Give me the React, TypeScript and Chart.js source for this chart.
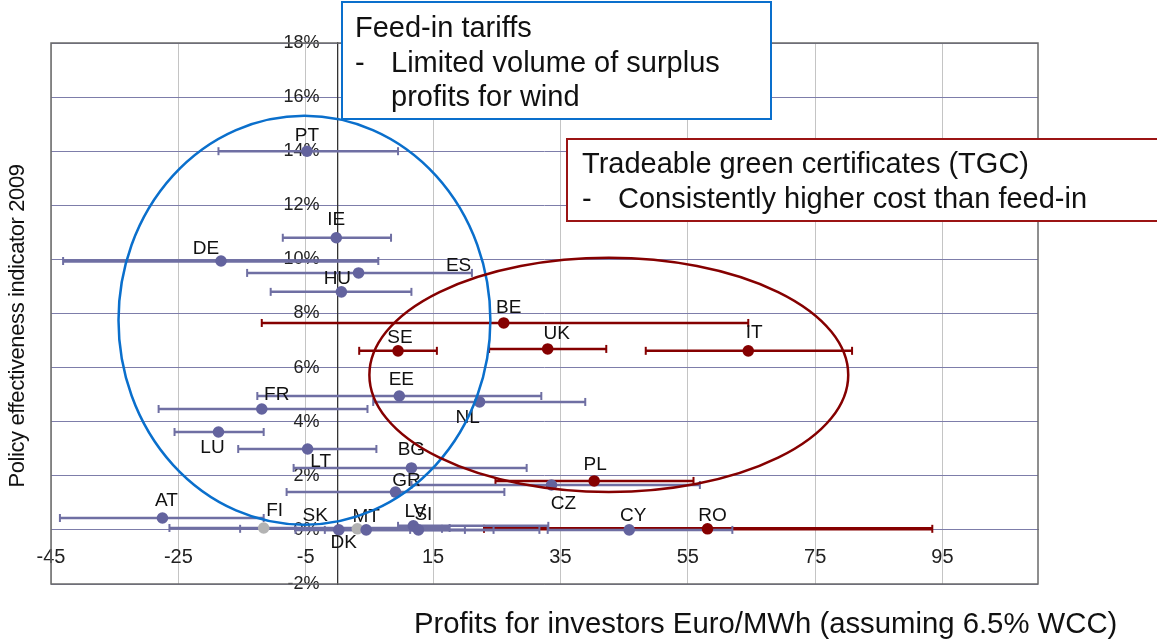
import React, { useEffect, useRef } from 'react';
import { Chart, registerables } from 'chart.js';

Chart.register(...registerables);

// ---------- data ----------
const COUNTRIES = ['PT', 'IE', 'DE', 'ES', 'HU', 'BE', 'SE', 'UK', 'IT', 'EE', 'NL', 'FR', 'LU', 'LT', 'BG', 'GR', 'CZ', 'PL', 'AT', 'FI', 'SK', 'DK', 'MT', 'LV', 'SI', 'CY', 'RO'];
const PROFIT = [-4.8, -0.2, -18.3, 3.3, 0.6, 26.1, 9.5, 33.0, 64.5, 9.7, 22.3, -11.9, -18.7, -4.7, 11.6, 9.1, 33.6, 40.3, -27.5, -11.6, 3.1, 0.2, 4.5, 11.9, 12.7, 45.8, 58.1];
const PROFIT_LOW = [-18.7, -8.6, -43.1, -14.2, -10.5, -11.9, 3.4, 23.8, 48.4, -12.6, 5.6, -28.1, -25.6, -15.6, -6.9, -8.0, 11.6, 24.8, -43.6, -26.4, -15.3, -6.6, -2.0, 9.5, 11.4, 33.0, 23.0];
const PROFIT_HIGH = [9.5, 8.4, 6.4, 21.1, 11.6, 64.5, 15.6, 42.2, 80.8, 32.0, 38.9, 4.7, -11.6, 6.1, 29.7, 26.2, 56.9, 55.9, -11.6, 17.6, 16.4, 24.5, 31.7, 33.1, 20.0, 62.0, 93.4];
const EFFECTIVENESS = [14.0, 10.8, 9.94, 9.5, 8.8, 7.65, 6.62, 6.69, 6.62, 4.95, 4.73, 4.47, 3.62, 2.99, 2.29, 1.4, 1.66, 1.81, 0.44, 0.07, 0.04, 0.0, 0.0, 0.15, 0.0, 0.0, 0.04];
const SCHEME = ['FIT', 'FIT', 'FIT', 'FIT', 'FIT', 'TGC', 'TGC', 'TGC', 'TGC', 'FIT', 'FIT', 'FIT', 'FIT', 'FIT', 'FIT', 'FIT', 'FIT', 'TGC', 'FIT', 'OTHER', 'OTHER', 'FIT', 'FIT', 'FIT', 'FIT', 'FIT', 'TGC'];
const X_TICKS = [-45, -25, -5, 15, 35, 55, 75, 95];
const Y_TICK_STEP = 2;

const X_TITLE = 'Profits for investors Euro/MWh (assuming 6.5% WCC)';
const Y_TITLE = 'Policy effectiveness indicator 2009';
const FIT_BOX_LINES = ['Feed-in tariffs', '-', 'Limited volume of surplus', 'profits for wind'];
const TGC_BOX_LINES = ['Tradeable green certificates (TGC)', '-', 'Consistently higher cost than feed-in'];

// ---------- styling / layout ----------
const FONT = '"Liberation Sans", Arial, sans-serif';
const BAR_COLOR: Record<string, string> = { FIT: '#6f6fa3', TGC: '#850000', OTHER: '#6f6fa3' };
const DOT_COLOR: Record<string, string> = { FIT: '#63639e', TGC: '#850000', OTHER: '#b3b3b3' };
const THICK = ['DE', 'RO'];
const LABEL_OFFSETS: Record<string, [number, number]> = {
  PT: [0, -15], IE: [0, -18], DE: [-15, -12], ES: [100, -7], HU: [-4, -13], BE: [5, -15], SE: [2, -13],
  UK: [9, -15], IT: [6, -18], EE: [2, -16], NL: [-12, 16], FR: [15, -14], LU: [-6, 16], LT: [13, 13],
  BG: [0, -18], GR: [11, -11], CZ: [12, 19], PL: [1, -16], AT: [4, -17], FI: [11, -17], SK: [-42, -13],
  DK: [5, 13], MT: [0, -13], LV: [2, -14], SI: [5, -15], CY: [4, -14], RO: [5, -13],
};
// ellipses given in data units (centre x, centre y, radius x, radius y)
const ELLIPSES = [
  { cx: -5.2, cy: 7.75, rx: 29.2, ry: 7.56, color: '#0a6fcc' },
  { cx: 42.6, cy: 5.73, rx: 37.6, ry: 4.33, color: '#850000' },
];

const annotations = {
  id: 'annotations',
  afterDatasetsDraw(chart: any) {
    const { ctx, scales } = chart;
    const xs = scales.x;
    const ys = scales.y;
    const meta = chart.getDatasetMeta(0);
    ctx.save();
    ctx.font = `19px ${FONT}`;
    ctx.fillStyle = '#111';
    ctx.textAlign = 'center';
    ctx.textBaseline = 'middle';
    COUNTRIES.forEach((c, i) => {
      const el = meta.data[i];
      const [dx, dy] = LABEL_OFFSETS[c];
      ctx.fillText(c, el.x + dx, el.y + dy);
    });
    ELLIPSES.forEach((e) => {
      const cx = xs.getPixelForValue(e.cx);
      const cy = ys.getPixelForValue(e.cy);
      const rx = Math.abs(xs.getPixelForValue(e.cx + e.rx) - cx);
      const ry = Math.abs(ys.getPixelForValue(e.cy + e.ry) - cy);
      ctx.beginPath();
      ctx.ellipse(cx, cy, rx, ry, 0, 0, Math.PI * 2);
      ctx.strokeStyle = e.color;
      ctx.lineWidth = 2.5;
      ctx.stroke();
    });
    ctx.restore();
  },
  afterDraw(chart: any) {
    const { ctx, chartArea } = chart;
    ctx.save();
    ctx.strokeStyle = '#6a6a6a';
    ctx.lineWidth = 1.5;
    ctx.strokeRect(chartArea.left, chartArea.top, chartArea.right - chartArea.left, chartArea.bottom - chartArea.top);

    ctx.fillStyle = '#fff';
    ctx.fillRect(342, 2, 429, 117);
    ctx.strokeStyle = '#0a6fcc';
    ctx.lineWidth = 2;
    ctx.strokeRect(342, 2, 429, 117);
    ctx.fillStyle = '#111';
    ctx.font = `29px ${FONT}`;
    ctx.textAlign = 'left';
    ctx.textBaseline = 'alphabetic';
    ctx.fillText(FIT_BOX_LINES[0], 355, 37);
    ctx.fillText(FIT_BOX_LINES[1], 355, 72);
    ctx.fillText(FIT_BOX_LINES[2], 391, 72);
    ctx.fillText(FIT_BOX_LINES[3], 391, 106);

    ctx.fillStyle = '#fff';
    ctx.fillRect(567, 139, 600, 82);
    ctx.strokeStyle = '#9b1414';
    ctx.lineWidth = 2;
    ctx.strokeRect(567, 139, 600, 82);
    ctx.fillStyle = '#111';
    ctx.fillText(TGC_BOX_LINES[0], 582, 173);
    ctx.fillText(TGC_BOX_LINES[1], 582, 208);
    ctx.fillText(TGC_BOX_LINES[2], 618, 208);

    ctx.font = `29.3px ${FONT}`;
    ctx.fillText(X_TITLE, 414, 633);
    ctx.translate(24, 326);
    ctx.rotate(-Math.PI / 2);
    ctx.font = `22px ${FONT}`;
    try { (ctx as any).letterSpacing = '-0.4px'; } catch (e) { /* ignore */ }
    ctx.textAlign = 'center';
    ctx.fillText(Y_TITLE, 0, 0);
    ctx.restore();
  },
};

export default function App() {
  const ref = useRef<HTMLCanvasElement>(null);
  useEffect(() => {
    document.body.style.margin = '0';
    const canvas = ref.current!;
    const barDatasets = COUNTRIES.map((c, i) => ({
      type: 'scatter' as const,
      label: c + ' range',
      data: [
        { x: PROFIT_LOW[i], y: EFFECTIVENESS[i] },
        { x: PROFIT_HIGH[i], y: EFFECTIVENESS[i] },
      ],
      showLine: true,
      borderColor: BAR_COLOR[SCHEME[i]],
      borderWidth: THICK.includes(c) ? 3.5 : 2.5,
      pointStyle: 'line' as const,
      pointRotation: 90,
      pointRadius: 4,
      pointBorderWidth: 2,
      pointBorderColor: BAR_COLOR[SCHEME[i]],
      order: 2,
    }));
    const dots = {
      type: 'scatter' as const,
      label: 'countries',
      data: COUNTRIES.map((c, i) => ({ x: PROFIT[i], y: EFFECTIVENESS[i] })),
      pointRadius: 5.8,
      pointBackgroundColor: SCHEME.map((s) => DOT_COLOR[s]),
      pointBorderWidth: 0,
      showLine: false,
      order: 1,
    };
    const chart = new Chart(canvas, {
      type: 'scatter',
      data: { datasets: [dots, ...barDatasets] as any },
      options: {
        responsive: false,
        animation: false,
        devicePixelRatio: 1,
        layout: { padding: { left: 51, top: 43, right: 119, bottom: 56 } },
        plugins: { legend: { display: false }, tooltip: { enabled: false } },
        scales: {
          x: {
            type: 'linear',
            min: -45,
            max: 110,
            position: { y: 0 } as any,
            afterBuildTicks: (s: any) => { s.ticks = X_TICKS.map((v) => ({ value: v })); },
            grid: { color: '#c4c4c4', lineWidth: 1, drawTicks: false },
            border: { display: true, color: '#7d7daa', width: 1 },
            ticks: { padding: 16, autoSkip: false, maxRotation: 0, color: '#222', font: { family: FONT, size: 20 } },
          },
          y: {
            type: 'linear',
            min: -2,
            max: 18,
            position: { x: 0 } as any,
            grid: { color: '#7d7daa', lineWidth: 1, drawTicks: false },
            border: { display: true, color: '#333', width: 1.3 },
            ticks: {
              stepSize: Y_TICK_STEP,
              color: '#222',
              font: { family: FONT, size: 18 },
              callback: (v: any) => `${v}%\u2002\u2002`,
            },
          },
        },
      },
      plugins: [annotations],
    });
    return () => chart.destroy();
  }, []);
  return (
    <div style={{ position: 'absolute', left: 0, top: 0, width: 1157, height: 640 }}>
      <canvas ref={ref} width={1157} height={640} />
    </div>
  );
}
